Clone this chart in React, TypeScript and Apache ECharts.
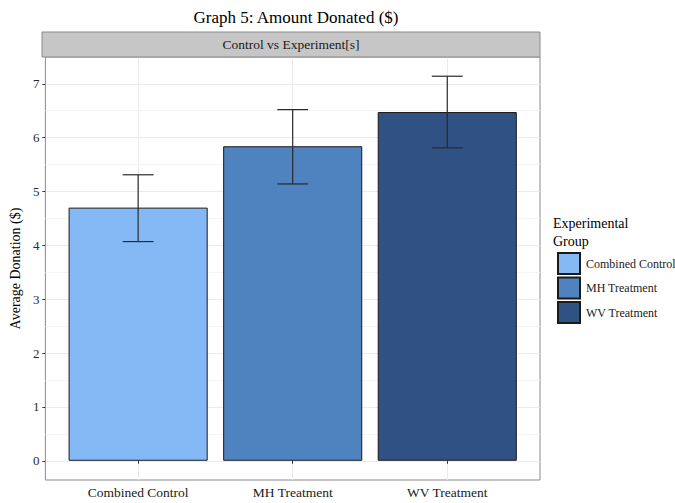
import React, { useEffect, useRef } from "react";
import * as echarts from "echarts";

const categories = ["Combined Control", "MH Treatment", "WV Treatment"];
const means = [4.7, 5.84, 6.475];
const lowers = [4.07, 5.14, 5.81];
const uppers = [5.31, 6.52, 7.14];
const colors = ["#85B9F5", "#4F83BF", "#2F5183"];
const yTicks = [0, 1, 2, 3, 4, 5, 6, 7];
const yMinor = [0.5, 1.5, 2.5, 3.5, 4.5, 5.5, 6.5];
const xPositions = [1, 2, 3];

const FONT = "'Liberation Serif', 'DejaVu Serif', serif";

export default function App() {
  const ref = useRef<HTMLDivElement>(null);

  useEffect(() => {
    if (!ref.current) return;
    const chart = echarts.init(ref.current, undefined, { renderer: "svg" });
    const top = Math.max(...uppers);
    const yMin = -0.05 * top;
    const yMax = top * 1.05;

    const barSeries = categories.map((name, i) => ({
      type: "bar",
      name,
      data: [[xPositions[i], means[i]]],
      barWidth: "90%",
      barGap: "-100%",
      z: 2,
      itemStyle: { color: colors[i], borderColor: "#1a1a1a", borderWidth: 1 },
      emphasis: { disabled: true },
      ...(i === 0
        ? {
            markLine: {
              silent: true,
              symbol: "none",
              z: 0,
              label: { show: false },
              lineStyle: { color: "#F4F4F4", width: 1, type: "solid" },
              data: yMinor.map((v) => ({ yAxis: v })),
            },
          }
        : {}),
    }));

    const errData = categories.map((_, i) => [xPositions[i], lowers[i], uppers[i]]);

    chart.setOption({
      animation: false,
      title: {
        text: "Graph 5: Amount Donated ($)",
        left: 291,
        textAlign: "center",
        top: 4,
        textStyle: { fontFamily: FONT, fontSize: 17, fontWeight: "normal", color: "#000" },
      },
      grid: {
        left: 42,
        top: 57,
        right: 135,
        bottom: 23,
        show: true,
        borderColor: "#8a8a8a",
        borderWidth: 1,
      },
      legend: {
        orient: "vertical",
        left: 557,
        top: 252,
        padding: 0,
        icon: "rect",
        itemWidth: 22,
        itemHeight: 21,
        itemGap: 1.5,
        textStyle: { fontFamily: FONT, fontSize: 12, color: "#1a1a1a", padding: [0, 0, 0, 1] },
        data: categories,
      },
      xAxis: {
        type: "value",
        min: 0.4,
        max: 3.6,
        axisLine: { show: false },
        axisTick: { show: true, customValues: xPositions, length: 3, lineStyle: { color: "#333" } },
        axisLabel: {
          customValues: xPositions,
          margin: 5,
          formatter: (v: number) => categories[Math.round(v) - 1] ?? "",
          fontFamily: FONT,
          fontSize: 13.5,
          color: "#1a1a1a",
        },
        splitLine: { show: true, lineStyle: { color: "#EBEBEB", width: 1 } },
      },
      yAxis: {
        type: "value",
        min: yMin,
        max: yMax,
        name: "Average Donation ($)",
        nameLocation: "middle",
        nameGap: 20,
        nameTextStyle: { fontFamily: FONT, fontSize: 14, color: "#000" },
        axisLine: { show: false },
        axisTick: { show: true, customValues: yTicks, length: 3, lineStyle: { color: "#333" } },
        axisLabel: {
          customValues: yTicks,
          margin: 6,
          fontFamily: FONT,
          fontSize: 13,
          color: "#2a2a2a",
        },
        splitLine: { show: true, lineStyle: { color: "#EBEBEB", width: 1 } },
      },
      graphic: [
        {
          type: "rect",
          shape: { x: 42, y: 32, width: 498, height: 25 },
          style: { fill: "#C6C6C6", stroke: "#8a8a8a", lineWidth: 1 },
          z: 10,
        },
        {
          type: "text",
          x: 291,
          y: 44.5,
          style: {
            text: "Control vs Experiment[s]",
            fontFamily: FONT,
            fontSize: 13.5,
            fill: "#1a1a1a",
            align: "center",
            verticalAlign: "middle",
          },
          z: 11,
        },
        {
          type: "text",
          x: 553,
          y: 214,
          style: {
            text: "Experimental\nGroup",
            fontFamily: FONT,
            fontSize: 14,
            lineHeight: 18,
            fill: "#000",
          },
        },
      ],
      series: [
        ...barSeries,
        {
          type: "custom",
          name: "err",
          z: 5,
          silent: true,
          data: errData,
          encode: { x: 0, y: [1, 2] },
          renderItem: (params: any, api: any) => {
            const x = api.value(0);
            const lo = api.coord([x, api.value(1)]);
            const hi = api.coord([x, api.value(2)]);
            const half = api.size([0.2, 0])[0] / 2;
            const style = { stroke: "#2a2a2a", lineWidth: 1.2 };
            return {
              type: "group",
              children: [
                { type: "line", shape: { x1: lo[0], y1: lo[1], x2: hi[0], y2: hi[1] }, style },
                { type: "line", shape: { x1: hi[0] - half, y1: hi[1], x2: hi[0] + half, y2: hi[1] }, style },
                { type: "line", shape: { x1: lo[0] - half, y1: lo[1], x2: lo[0] + half, y2: lo[1] }, style },
              ],
            };
          },
        },
      ],
    });
    return () => chart.dispose();
  }, []);

  return <div ref={ref} style={{ width: 675, height: 503, position: "absolute", left: 0, top: 0 }} />;
}
